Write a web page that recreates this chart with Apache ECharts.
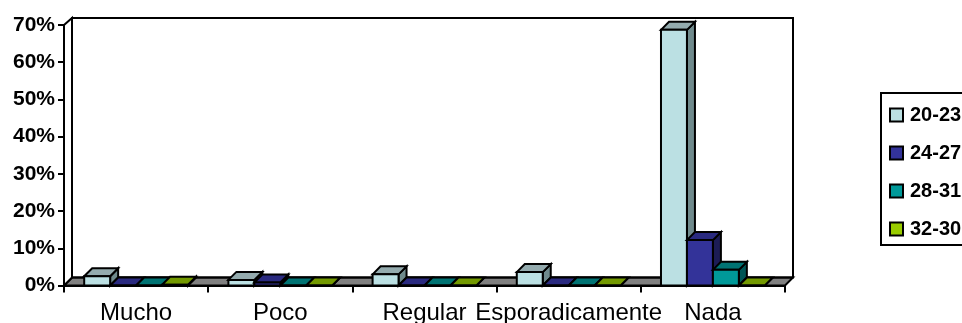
<!DOCTYPE html>
<html>
<head>
<meta charset="utf-8">
<style>
  html, body { margin: 0; padding: 0; background: #fff; overflow: hidden; }
  #chart { width: 962px; height: 323px; }
</style>
<script src="https://cdn.jsdelivr.net/npm/echarts@6/dist/echarts.min.js"></script>
</head>
<body>
<div id="chart"></div>
<script>
const categories = ['Mucho', 'Poco', 'Regular', 'Esporadicamente', 'Nada'];
const seriesNames = ['20-23', '24-27', '28-31', '32-30'];

const values2023 = [2.5, 1.5, 3.0, 3.6, 68.7];
const values2427 = [0, 0.8, 0, 0, 12.2];
const values2831 = [0, 0, 0, 0, 4.2];
const values3230 = [0.2, 0, 0, 0, 0];
const allValues = [values2023, values2427, values2831, values3230];

// front, top and side face of each series
const frontColors = ['#bbe0e3', '#333399', '#009999', '#99cc00'];
const topColors = ['#94abae', '#2a2a80', '#007373', '#739900'];
const sideColors = ['#6f8a8c', '#1c1c55', '#005555', '#557700'];

const DEPTH = 8;
const LINE = 2;

function poly(points, fill) {
    return {
        type: 'polygon',
        shape: { points: points },
        style: { fill: fill, stroke: '#000', lineWidth: LINE, lineJoin: 'miter' }
    };
}

// one 3D column, faces worked out from the axis scales
function renderBar(params, api) {
    const i = params.seriesIndex - 1;
    const idx = api.value(0);
    const band = api.size([1, 0])[0];
    const w = band * 0.18;
    const x0 = api.coord([idx, 0])[0] - 2 * w + i * w;
    const x1 = x0 + w;
    const yBase = api.coord([idx, 0])[1];
    const yTop = api.coord([idx, api.value(1)])[1];
    return {
        type: 'group',
        children: [
            poly([[x1, yTop], [x1 + DEPTH, yTop - DEPTH], [x1 + DEPTH, yBase - DEPTH], [x1, yBase]], sideColors[i]),
            poly([[x0, yTop], [x0 + DEPTH, yTop - DEPTH], [x1 + DEPTH, yTop - DEPTH], [x1, yTop]], topColors[i]),
            poly([[x0, yTop], [x1, yTop], [x1, yBase], [x0, yBase]], frontColors[i])
        ]
    };
}

// back wall, left wall and grey floor
function renderWalls(params, api) {
    const g = params.coordSys;
    const l = g.x, r = g.x + g.width, t = g.y, b = g.y + g.height;
    return {
        type: 'group',
        children: [
            poly([[l, b], [l + DEPTH, b - DEPTH], [r + DEPTH, b - DEPTH], [r, b]], '#808080'),
            poly([[l + DEPTH, t - 7], [r + DEPTH, t - 7], [r + DEPTH, b - DEPTH], [l + DEPTH, b - DEPTH]], 'rgba(255,255,255,0)'),
            poly([[l, t], [l + DEPTH, t - 7], [l + DEPTH, b - DEPTH], [l, b]], '#fff')
        ]
    };
}

const barSeries = seriesNames.map(function (name, s) {
    return {
        name: name,
        type: 'custom',
        renderItem: renderBar,
        clip: false,
        silent: true,
        animation: false,
        z: 3,
        encode: { x: 0, y: 1 },
        itemStyle: { color: frontColors[s] },
        data: categories.map(function (c, k) { return [k, allValues[s][k]]; })
    };
});

const myChart = echarts.init(document.getElementById('chart'), null, { renderer: 'canvas' });

const option = {
    animation: false,
    backgroundColor: '#fff',
    textStyle: { fontFamily: 'Liberation Sans' },
    // outerBounds off, otherwise v6 shrinks the grid to keep the labels inside
    grid: { left: 64, right: 177, top: 25, bottom: 37.5, containLabel: false, outerBoundsMode: 'none' },
    legend: {
        orient: 'vertical',
        left: 881,
        top: 93,
        padding: [12, 60, 6, 8],
        itemWidth: 13,
        itemHeight: 13,
        itemGap: 18,
        borderColor: '#000',
        borderWidth: 2,
        selectedMode: false,
        textStyle: { fontFamily: 'Liberation Sans', fontSize: 20, fontWeight: 'bold', color: '#000', lineHeight: 20, padding: [0, 0, 0, 2] },
        data: seriesNames.map(function (name, s) {
            return {
                name: name,
                icon: 'rect',
                itemStyle: { color: frontColors[s], borderColor: '#000', borderWidth: 2 }
            };
        })
    },
    xAxis: {
        type: 'category',
        data: categories,
        boundaryGap: true,
        axisLine: { show: true, lineStyle: { color: '#000', width: LINE } },
        axisTick: { show: true, length: 7, alignWithLabel: false, lineStyle: { color: '#000', width: LINE } },
        axisLabel: { interval: 0, margin: 16, fontFamily: 'Liberation Sans', fontSize: 24, color: '#000' }
    },
    yAxis: {
        type: 'value',
        min: 0,
        max: 70,
        interval: 10,
        splitLine: { show: false },
        axisLine: { show: true, lineStyle: { color: '#000', width: LINE } },
        axisTick: { show: true, length: 6, lineStyle: { color: '#000', width: LINE } },
        axisLabel: { formatter: '{value}%', margin: 9, padding: [4, 0, 0, 0], fontFamily: 'Liberation Sans', fontSize: 21, fontWeight: 'bold', color: '#000' }
    },
    series: [{
        type: 'custom',
        renderItem: renderWalls,
        clip: false,
        silent: true,
        animation: false,
        z: 1,
        data: [[0, 0]]
    }].concat(barSeries)
};

myChart.setOption(option);
</script>
</body>
</html>
